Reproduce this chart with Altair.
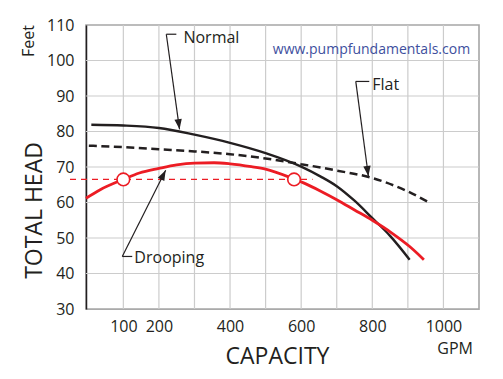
import altair as alt
import pandas as pd

FONT = "Open Sans"
RED = "#ec1c24"
BLACK = "#231f20"

# ---- data ----
grid_x = [100, 200, 300, 400, 500, 600, 700, 800, 900, 1000]
grid_y = [40, 50, 60, 70, 80, 90, 100]
x_ticks = [100, 200, 400, 600, 800, 1000]
y_ticks = [30, 40, 50, 60, 70, 80, 90, 100, 110]

normal_gpm = [10, 100, 200, 300, 400, 500, 600, 655, 700, 750, 800, 850, 905]
normal_head = [81.9, 81.7, 81.0, 79.1, 76.8, 73.9, 70.1, 67.3, 64.6, 60.5, 55.6, 50.6, 43.9]

flat_gpm = [3, 100, 200, 300, 400, 500, 600, 700, 800, 900, 965]
flat_head = [76.0, 75.6, 75.0, 74.4, 73.6, 72.4, 70.8, 69.0, 66.9, 63.1, 59.7]

droop_gpm = [-5, 35, 100, 145, 200, 250, 300, 355, 400, 460, 500, 580, 605, 655, 700, 750, 800, 855, 905, 945]
droop_head = [61.2, 63.6, 66.5, 68.3, 69.6, 70.6, 71.1, 71.2, 70.9, 70.1, 69.4, 66.6, 65.6, 63.2, 60.8, 57.9, 55.0, 51.4, 47.6, 43.9]

op_gpm = [100, 580]
op_head = [66.5, 66.5]
ref_gpm = [-50, 632]

arrow_labels = ["Normal", "Flat", "Drooping"]
arrow_start_gpm = [220.8, 753.5, 97]
arrow_start_head = [107.4, 94.1, 44.8]
arrow_tip_gpm = [258, 789, 219]
arrow_tip_head = [80.6, 67.4, 69.1]
arrow_angle = [352, 352, 207]
bracket_end_gpm = [249, 791.5, 125]
label_gpm = [269, 800, 131]
label_head = [106.3, 93.2, 44.3]

# ---- scales / axes ----
xs = alt.Scale(domain=[-5, 1100], nice=False, zero=False)
ys = alt.Scale(domain=[30, 110], nice=False, zero=False)

x_axis = alt.Axis(values=x_ticks, format="d", grid=False, ticks=False, tickSize=0, labelFont=FONT,
                  labelFontSize=16, labelColor=BLACK, labelPadding=17, labelBaseline="middle",
                  domainColor="#aaaaaa", domainWidth=1.2,
                  title="CAPACITY", titleFont=FONT, titleFontSize=23, titleFontWeight="normal",
                  titleColor=BLACK, titleX=191, titleY=47, titleBaseline="middle", titleAnchor="middle")
y_axis = alt.Axis(values=y_ticks, format="d", grid=False, ticks=False, tickSize=0, labelFont=FONT,
                  labelFontSize=16, labelColor=BLACK, labelPadding=12,
                  domainColor=BLACK, domainWidth=1.5,
                  title="TOTAL HEAD", titleFont=FONT, titleFontSize=23, titleFontWeight="normal",
                  titleColor=BLACK, titleAngle=270, titleX=-52, titleY=185,
                  titleBaseline="middle", titleAnchor="middle")


def X(field):
    return alt.X(field, type="quantitative", scale=xs, axis=x_axis)


def Y(field):
    return alt.Y(field, type="quantitative", scale=ys, axis=y_axis)


vgrid = alt.Chart(pd.DataFrame({"g": grid_x})).mark_rule(color="#cccccc", strokeWidth=1.2).encode(
    x=X("g"))
hgrid = alt.Chart(pd.DataFrame({"h": grid_y})).mark_rule(color="#cccccc", strokeWidth=1.2).encode(
    y=Y("h"))

ref = alt.Chart(pd.DataFrame({"x0": [ref_gpm[0]], "x1": [ref_gpm[1]], "h": [op_head[0]]})).mark_rule(
    color=RED, strokeWidth=1.3, strokeDash=[6, 5]).encode(x=X("x0"), x2="x1", y=Y("h"))

flat = alt.Chart(pd.DataFrame({"q": flat_gpm, "h": flat_head})).mark_line(
    color=BLACK, strokeWidth=2.5, strokeDash=[8, 4.5], interpolate="monotone").encode(x=X("q"), y=Y("h"))
normal = alt.Chart(pd.DataFrame({"q": normal_gpm, "h": normal_head})).mark_line(
    color=BLACK, strokeWidth=2.4, interpolate="monotone").encode(x=X("q"), y=Y("h"))
droop = alt.Chart(pd.DataFrame({"q": droop_gpm, "h": droop_head})).mark_line(
    color=RED, strokeWidth=2.8, interpolate="monotone").encode(x=X("q"), y=Y("h"))

ops = alt.Chart(pd.DataFrame({"q": op_gpm, "h": op_head})).mark_point(
    shape="circle", size=160, filled=True, fill="white", stroke=RED, strokeWidth=1.6, opacity=1).encode(
    x=X("q"), y=Y("h"))

adf = pd.DataFrame({
    "label": arrow_labels,
    "sx": arrow_start_gpm, "sy": arrow_start_head,
    "tx": arrow_tip_gpm, "ty": arrow_tip_head,
    "ang": arrow_angle, "bx": bracket_end_gpm,
    "lx": label_gpm, "ly": label_head,
})
shafts = alt.Chart(adf).mark_rule(color=BLACK, strokeWidth=1.2).encode(
    x=X("sx"), y=Y("sy"), x2="tx", y2="ty")
brackets = alt.Chart(adf).mark_rule(color=BLACK, strokeWidth=1.2).encode(
    x=X("sx"), y=Y("sy"), x2="bx")
heads = alt.Chart(adf).mark_point(
    shape="M0,0L-0.36,-1L0.36,-1Z", size=420, filled=True, fill=BLACK, strokeWidth=0, opacity=1).encode(
    x=X("tx"), y=Y("ty"), angle=alt.Angle("ang:Q", scale=None))
labels = alt.Chart(adf).mark_text(
    font=FONT, fontSize=16, color=BLACK, align="left", baseline="middle").encode(
    x=X("lx"), y=Y("ly"), text="label:N")

site = alt.Chart(pd.DataFrame({"q": [1075], "h": [102.9], "t": ["www.pumpfundamentals.com"]})).mark_text(
    font=FONT, fontSize=14, color="#3e4f9e", align="right", baseline="middle").encode(
    x=X("q"), y=Y("h"), text="t:N")
gpm = alt.Chart(pd.DataFrame({"q": [1033], "h": [18.8], "t": ["GPM"]})).mark_text(
    font=FONT, fontSize=16, color=BLACK, align="center", baseline="middle").encode(
    x=X("q"), y=Y("h"), text="t:N")
feet = alt.Chart(pd.DataFrame({"q": [-166], "h": [105.5], "t": ["Feet"]})).mark_text(
    font=FONT, fontSize=16, color=BLACK, align="center", baseline="middle", angle=270).encode(
    x=X("q"), y=Y("h"), text="t:N")

chart = alt.layer(
    vgrid, hgrid, ref, flat, normal, droop, ops, shafts, brackets, heads, labels, site, gpm, feet
).properties(
    width=393, height=284,
    autosize=alt.AutoSizeParams(type="none"),
    padding={"left": 78, "top": 17, "right": 16, "bottom": 64},
    background="white",
).configure_view(stroke="#a6a6a6", strokeWidth=1.6)

chart.save("out.html", embed_options={"renderer": "svg", "actions": False})
